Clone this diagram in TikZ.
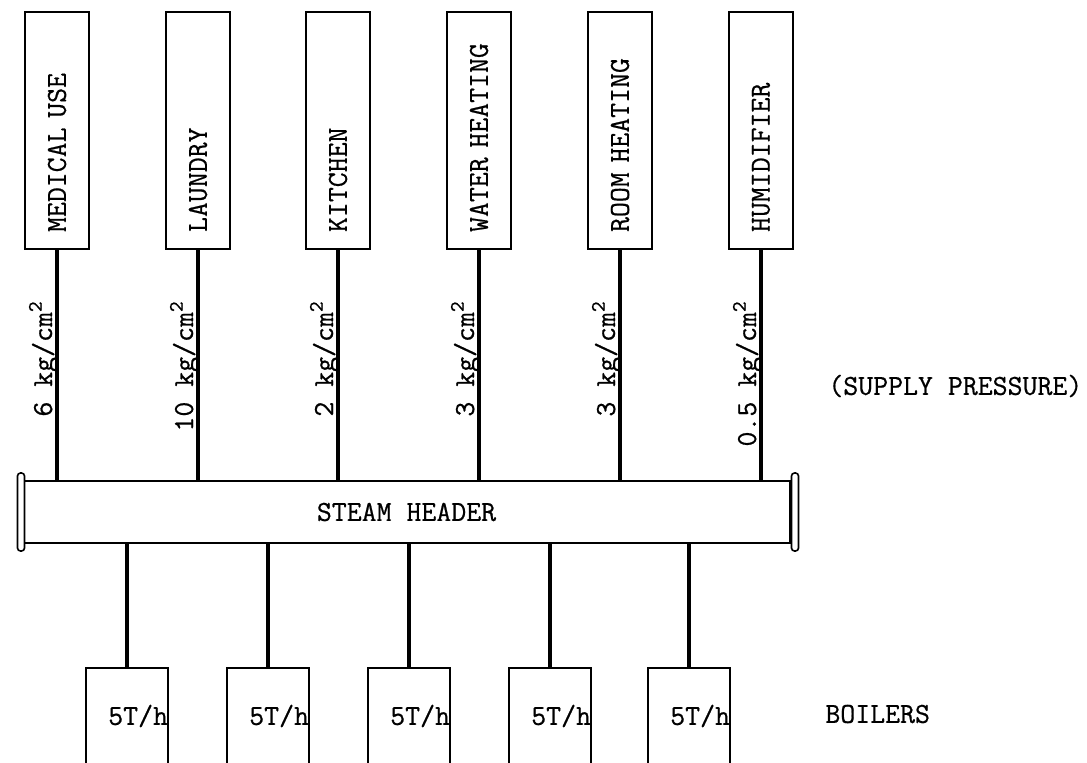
\documentclass[tikz,border=0pt]{standalone}
\usepackage{fontspec}
\newfontfamily\typew{Latin Modern Mono}[FakeBold=0.6]
\usetikzlibrary{calc}
\begin{document}
\begin{tikzpicture}[x=0.5pt,y=-0.5pt,
  every node/.style={font=\typew\fontsize{14.5}{17}\selectfont},
  ubox/.style={draw,line width=1pt,rotate=90,anchor=west,minimum width=118.5pt,
    minimum height=32pt,text width=101.5pt,align=left,inner xsep=8.5pt,inner ysep=0pt},
  plabel/.style={rotate=90,anchor=base east,inner sep=0pt},
  bbox/.style={draw,line width=1pt,minimum width=41pt,minimum height=48pt,
    text width=41pt,align=right,inner xsep=0pt,inner ysep=0pt},
  hdrbox/.style={draw,line width=1pt,fill=white,minimum width=383.5pt,minimum height=31pt,inner sep=0pt},
  flange/.style={draw,line width=0.8pt,fill=white,rounded corners=1.5pt,minimum width=3.5pt,minimum height=39pt,inner sep=0pt},
  pipe/.style={line width=1.7pt},
  plain/.style={inner sep=0pt,anchor=west}]
\useasboundingbox (0,0) rectangle (1087,762);

% steam header
\node[hdrbox] (hdr) at (406.5,512) {STEAM HEADER};
\node[flange] (fl) at (21,512) {};
\node[flange] (fr) at (795,512) {};

% users
\node[ubox] (u1) at (57,250) {MEDICAL USE};
\node[ubox] (u2) at (198,250) {LAUNDRY};
\node[ubox] (u3) at (338,250) {KITCHEN};
\node[ubox] (u4) at (479,250) {WATER HEATING};
\node[ubox] (u5) at (620,250) {ROOM HEATING};
\node[ubox] (u6) at (761,250) {HUMIDIFIER};

\foreach \i in {1,...,6}{
  \draw[pipe] (u\i.west) -- (u\i.west |- hdr.north);
}

% supply pressures
\node[plabel] (p1) at ($(u1.west)+(-5,50)$) {6 kg/cm\textsuperscript{2}};
\node[plabel] (p2) at ($(u2.west)+(-5,50)$) {10 kg/cm\textsuperscript{2}};
\node[plabel] (p3) at ($(u3.west)+(-5,50)$) {2 kg/cm\textsuperscript{2}};
\node[plabel] (p4) at ($(u4.west)+(-5,50)$) {3 kg/cm\textsuperscript{2}};
\node[plabel] (p5) at ($(u5.west)+(-5,50)$) {3 kg/cm\textsuperscript{2}};
\node[plabel] (p6) at ($(u6.west)+(-5,50)$) {0.5 kg/cm\textsuperscript{2}};

\node[plain] (sp) at (828,386) {(SUPPLY PRESSURE)};

% boilers
\node[bbox] (b1) at (127,716) {5T/h};
\node[bbox] (b2) at (268,716) {5T/h};
\node[bbox] (b3) at (409,716) {5T/h};
\node[bbox] (b4) at (550,716) {5T/h};
\node[bbox] (b5) at (689,716) {5T/h};

\foreach \i in {1,...,5}{
  \draw[pipe] (b\i.north) -- (b\i.north |- hdr.south);
}

\node[plain] (bl) at (825,714) {BOILERS};
\end{tikzpicture}
\end{document}
